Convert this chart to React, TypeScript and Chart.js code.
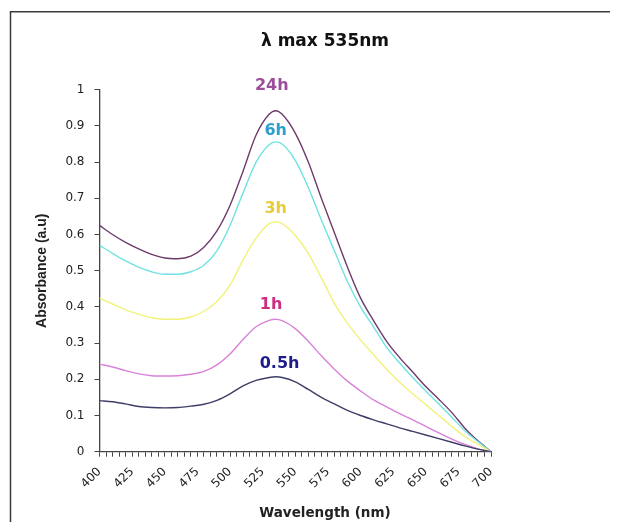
import { useEffect, useRef } from 'react';
import { Chart, registerables } from 'chart.js';

Chart.register(...registerables);

// Wavelength (nm)
const wavelengths = [
  400, 410, 420, 430, 440, 450, 460, 470, 480, 490, 500, 510, 520, 530, 535, 540,
  550, 560, 570, 580, 590, 600, 610, 620, 630, 640, 650, 660, 670, 680, 690, 700,
];

// Absorbance (a.u) per exposure time
const abs05h = [
  0.141, 0.138, 0.132, 0.125, 0.122, 0.121, 0.122, 0.126, 0.131, 0.142, 0.160, 0.182, 0.197, 0.205, 0.207, 0.205,
  0.193, 0.172, 0.150, 0.132, 0.114, 0.100, 0.088, 0.077, 0.066, 0.056, 0.046, 0.036, 0.026, 0.016, 0.007, 0.0,
];
const abs1h = [
  0.242, 0.234, 0.224, 0.215, 0.210, 0.209, 0.210, 0.214, 0.222, 0.240, 0.270, 0.310, 0.345, 0.363, 0.366, 0.362,
  0.340, 0.305, 0.265, 0.228, 0.195, 0.168, 0.143, 0.124, 0.105, 0.088, 0.070, 0.052, 0.035, 0.020, 0.008, 0.0,
];
const abs3h = [
  0.424, 0.408, 0.392, 0.380, 0.370, 0.366, 0.366, 0.372, 0.388, 0.415, 0.460, 0.530, 0.590, 0.630, 0.635, 0.630,
  0.598, 0.548, 0.480, 0.410, 0.355, 0.309, 0.268, 0.228, 0.192, 0.160, 0.130, 0.100, 0.070, 0.042, 0.020, 0.0,
];
const abs6h = [
  0.570, 0.548, 0.527, 0.510, 0.497, 0.490, 0.490, 0.497, 0.515, 0.555, 0.625, 0.715, 0.800, 0.848, 0.856, 0.850,
  0.805, 0.730, 0.640, 0.555, 0.470, 0.400, 0.345, 0.288, 0.245, 0.205, 0.168, 0.132, 0.095, 0.058, 0.028, 0.0,
];
const abs24h = [
  0.625, 0.600, 0.578, 0.560, 0.545, 0.535, 0.533, 0.540, 0.565, 0.610, 0.680, 0.775, 0.875, 0.932, 0.942, 0.932,
  0.880, 0.800, 0.700, 0.605, 0.510, 0.425, 0.362, 0.305, 0.260, 0.220, 0.180, 0.145, 0.108, 0.065, 0.030, 0.0,
];

const seriesNames = ['0.5h', '1h', '3h', '6h', '24h'];
const seriesValues = [abs05h, abs1h, abs3h, abs6h, abs24h];

// Where each series name is written (wavelength, absorbance)
const labelWavelengths = [538, 531.5, 535, 535, 532];
const labelAbsorbances = [0.242, 0.405, 0.670, 0.886, 1.012];

const lineColors = ['#3e3e68', '#d882d8', '#f2f27a', '#70e2e2', '#6e3a6c'];
const labelColors = ['#1c1c8c', '#cc2f80', '#e6cc3a', '#2f9fcf', '#9b4f9b'];

const framePlugin = {
  id: 'frameLines',
  beforeDraw(chart: any) {
    const ctx = chart.ctx;
    ctx.save();
    ctx.fillStyle = '#ffffff';
    ctx.fillRect(0, 0, chart.width, chart.height);
    ctx.strokeStyle = '#3a3a3a';
    ctx.lineWidth = 1.5;
    ctx.beginPath();
    ctx.moveTo(2.5, chart.height);
    ctx.lineTo(2.5, 3.7);
    ctx.lineTo(chart.width, 3.7);
    ctx.stroke();
    ctx.restore();
  },
};

const seriesLabelPlugin = {
  id: 'seriesLabels',
  afterDatasetsDraw(chart: any) {
    const ctx = chart.ctx;
    const xs = chart.scales.x;
    const ys = chart.scales.y;
    ctx.save();
    ctx.font = 'bold 16px "DejaVu Sans"';
    ctx.textAlign = 'center';
    ctx.textBaseline = 'middle';
    seriesNames.forEach((name, i) => {
      ctx.fillStyle = labelColors[i];
      ctx.fillText(name, xs.getPixelForValue(labelWavelengths[i]), ys.getPixelForValue(labelAbsorbances[i]));
    });
    ctx.restore();
  },
};

export default function App() {
  const canvasRef = useRef<HTMLCanvasElement | null>(null);

  useEffect(() => {
    if (!canvasRef.current) return;
    const datasets = seriesNames.map((name, i) => ({
      label: name,
      data: wavelengths.map((w, j) => ({ x: w, y: seriesValues[i][j] })),
      borderColor: lineColors[i],
      backgroundColor: lineColors[i],
      borderWidth: 1.4,
      pointRadius: 0,
      fill: false,
      cubicInterpolationMode: 'monotone' as const,
    }));

    const chart = new Chart(canvasRef.current, {
      type: 'line',
      data: { datasets },
      plugins: [framePlugin, seriesLabelPlugin],
      options: {
        animation: false,
        responsive: true,
        maintainAspectRatio: false,
        layout: { padding: { left: 24, right: 0, top: 0, bottom: 0 } },
        plugins: {
          legend: { display: false },
          tooltip: { enabled: false },
          title: {
            display: true,
            text: 'λ max 535nm',
            color: '#111111',
            font: { family: 'DejaVu Sans', weight: 'bold', size: 17 },
            padding: { top: 23.8, bottom: 37.5 },
          },
          subtitle: {
            display: true,
            position: 'bottom',
            text: 'Wavelength (nm)',
            color: '#222222',
            font: { family: 'DejaVu Sans', weight: 'bold', size: 13.5 },
            padding: { top: 0, bottom: 0 },
          },
        },
        scales: {
          x: {
            type: 'linear',
            min: 400,
            max: 700,
            afterFit: (s: any) => {
              s.height = 54.1;
            },
            border: { display: true, color: '#444444', width: 1.3 },
            grid: { display: true, drawOnChartArea: false, drawTicks: true, tickLength: 5, color: '#444444' },
            ticks: {
              stepSize: 5,
              autoSkip: false,
              maxRotation: 45,
              minRotation: 45,
              padding: 8,
              color: '#222222',
              font: { family: 'DejaVu Sans', size: 12 },
              callback: (v: any) => (Number(v) % 25 === 0 ? String(v) : ''),
            },
          },
          y: {
            type: 'linear',
            position: 'left',
            min: 0,
            max: 1,
            afterFit: (s: any) => {
              s.width = 67.5;
            },
            border: { display: true, color: '#444444', width: 1.3 },
            grid: { display: true, drawOnChartArea: false, drawTicks: true, tickLength: 5, color: '#444444' },
            ticks: {
              stepSize: 0.1,
              padding: 10,
              color: '#222222',
              font: { family: 'DejaVu Sans', size: 12 },
              callback: (v: any) => String(Number(Number(v).toFixed(1))),
            },
            title: {
              display: true,
              text: 'Absorbance (a.u)',
              color: '#222222',
              font: { family: 'Liberation Sans', weight: 'bold', size: 14 },
              padding: 2,
            },
          },
          yRight: {
            type: 'linear',
            position: 'right',
            display: true,
            afterFit: (s: any) => {
              s.width = 127;
            },
            border: { display: false },
            grid: { display: false },
            ticks: { display: false },
          },
        },
      },
    });
    return () => chart.destroy();
  }, []);

  return (
    <div style={{ width: 610, height: 514, position: 'relative' }}>
      <canvas ref={canvasRef} />
    </div>
  );
}
